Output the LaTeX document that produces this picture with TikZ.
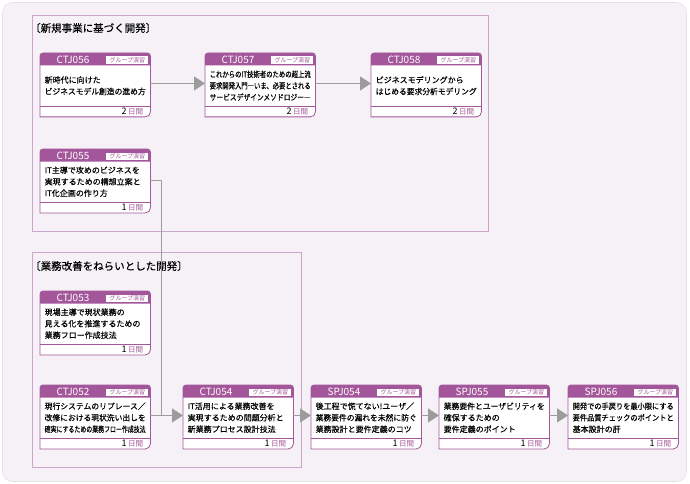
\documentclass[tikz,border=0pt]{standalone}
\usepackage{fontspec}
\usepackage{graphicx}
\setmainfont{Noto Sans CJK JP}
\newfontfamily\bodyfont[FakeBold=0.3]{Noto Sans CJK JP}
\usetikzlibrary{arrows.meta,calc}
\definecolor{pur}{HTML}{A3579A}
\definecolor{grpline}{HTML}{CBA5CA}
\definecolor{bg}{HTML}{F5F1F7}
\definecolor{bgline}{HTML}{E4E0E6}
\definecolor{arr}{HTML}{9C9C9C}
\newsavebox\fitbox
\newcommand\fl[1]{\sbox\fitbox{#1}\ifdim\wd\fitbox>101pt\resizebox{101pt}{\height}{\usebox\fitbox}\else\usebox\fitbox\fi}
\tikzset{
  cardbox/.style={rectangle, minimum width=110pt, minimum height=63.5pt, inner sep=0pt, draw=none},
  tagbox/.style={fill=white, inner sep=0pt, minimum width=42pt, minimum height=7.5pt, text=pur, font=\fontsize{6}{6}\selectfont},
  codetxt/.style={text=white, inner sep=0pt, font=\fontsize{10}{10}\selectfont},
  bodytxt/.style={align=left, inner sep=0pt, font=\bodyfont\fontsize{8}{11.5}\selectfont},
  daytxt/.style={inner sep=0pt, font=\fontsize{9}{9}\selectfont},
  grp/.style={draw=grpline, line width=0.8pt},
  grplabel/.style={inner sep=0pt, font=\bodyfont\fontsize{10.5}{10.5}\selectfont},
  conn/.style={draw=arr, line width=1pt, -{Triangle[length=11pt,width=14pt]}},
  plainconn/.style={draw=arr, line width=1pt}
}
\newcommand\card[6]{%
  \node[cardbox, anchor=north west] (#1) at (#2,-#3) {};
  \path[draw=pur, fill=white, line width=0.8pt] (#1.south west) -- ([yshift=-3pt]#1.north west) arc[start angle=180,end angle=90,radius=3pt] -- ([xshift=-3pt]#1.north east) arc[start angle=90,end angle=0,radius=3pt] -- ([yshift=5pt]#1.south east) arc[start angle=0,end angle=-90,radius=5pt] -- cycle;
  \fill[pur] ([yshift=-12.5pt]#1.north west) -- ([yshift=-3pt]#1.north west) arc[start angle=180,end angle=90,radius=3pt] -- ([xshift=-3pt]#1.north east) arc[start angle=90,end angle=0,radius=3pt] -- ([yshift=-12.5pt]#1.north east) -- cycle;
  \node[tagbox] (#1t) at ($(#1.north east)+(-23,-7.25)$) {グループ演習};
  \node[codetxt] (#1c) at ($(#1.north west)+(33,-6.5)$) {#4};
  \draw[pur, line width=0.6pt] ([yshift=11pt]#1.south west) -- ([yshift=11pt]#1.south east);
  \node[bodytxt, anchor=west] (#1b) at ($(#1.west)+(4.5,-0.75)$) {#5};
  \node[daytxt, anchor=base east] (#1d) at ($(#1.south east)+(-7,2.6)$) {#6\,\textcolor{pur}{\fontsize{7.5}{7.5}\selectfont 日間}};
}
\begin{document}
\begin{tikzpicture}[x=1pt,y=1pt]
\useasboundingbox (0,0) rectangle (690,-484);
\draw[rounded corners=10pt, fill=bg, draw=bgline, line width=0.6pt] (2.5,-2.5) rectangle (686.5,-481.5);
% groups
\draw[grp] (32,-15) rectangle (488,-231);
\node[grplabel, anchor=west] (g1) at (30,-28) {〔新規事業に基づく開発〕};
\draw[grp] (32,-252) rectangle (301,-467);
\node[grplabel, anchor=west] (g2) at (30,-266) {〔業務改善をねらいとした開発〕};
% cards
\card{c056}{40}{53}{CTJ056}{\fl{新時代に向けた}\\\fl{ビジネスモデル創造の進め方}}{2}
\card{c057}{205}{53}{CTJ057}{\fl{これからのIT技術者のための超上流}\\\fl{要求開発入門―いま、必要とされる}\\\fl{サービスデザインメソドロジー―}}{2}
\card{c058}{371}{53}{CTJ058}{\fl{ビジネスモデリングから}\\\fl{はじめる要求分析モデリング}}{2}
\card{c055}{40}{149}{CTJ055}{\fl{IT主導で攻めのビジネスを}\\\fl{実現するための構想立案と}\\\fl{IT化企画の作り方}}{1}
\card{c053}{40}{291}{CTJ053}{\fl{現場主導で現状業務の}\\\fl{見える化を推進するための}\\\fl{業務フロー作成技法}}{1}
\card{c052}{40}{385}{CTJ052}{\fl{現行システムのリプレース／}\\\fl{改修における現状洗い出しを}\\\fl{確実にするための業務フロー作成技法}}{1}
\card{c054}{183}{385}{CTJ054}{\fl{IT活用による業務改善を}\\\fl{実現するための問題分析と}\\\fl{新業務プロセス設計技法}}{1}
\card{s054}{311}{385}{SPJ054}{\fl{後工程で慌てない!ユーザ／}\\\fl{業務要件の漏れを未然に防ぐ}\\\fl{業務設計と要件定義のコツ}}{1}
\card{s055}{439}{385}{SPJ055}{\fl{業務要件とユーザビリティを}\\\fl{確保するための}\\\fl{要件定義のポイント}}{1}
\card{s056}{568}{385}{SPJ056}{\fl{開発での手戻りを最小限にする}\\\fl{要件品質チェックのポイントと}\\\fl{基本設計の肝}}{1}
% connectors
\draw[conn] ([yshift=1.5pt]c056.east) -- ([yshift=1.5pt]c057.west);
\draw[conn] ([yshift=1.5pt]c057.east) -- ([yshift=1.5pt]c058.west);
\draw[conn] ([yshift=1.5pt]c052.east) -- ([yshift=1.5pt]c054.west);
\draw[conn] ([yshift=1.5pt]c054.east) -- ([yshift=1.5pt]s054.west);
\draw[conn] ([yshift=1.5pt]s054.east) -- ([yshift=1.5pt]s055.west);
\draw[conn] ([yshift=1.5pt]s055.east) -- ([yshift=1.5pt]s056.west);
\coordinate (vx) at (161,0);
\path ([yshift=1.5pt]c052.east) coordinate (j0);
\coordinate (j) at (j0 -| vx);
\draw[plainconn] (c055.east) -| (j);
\end{tikzpicture}
\end{document}
